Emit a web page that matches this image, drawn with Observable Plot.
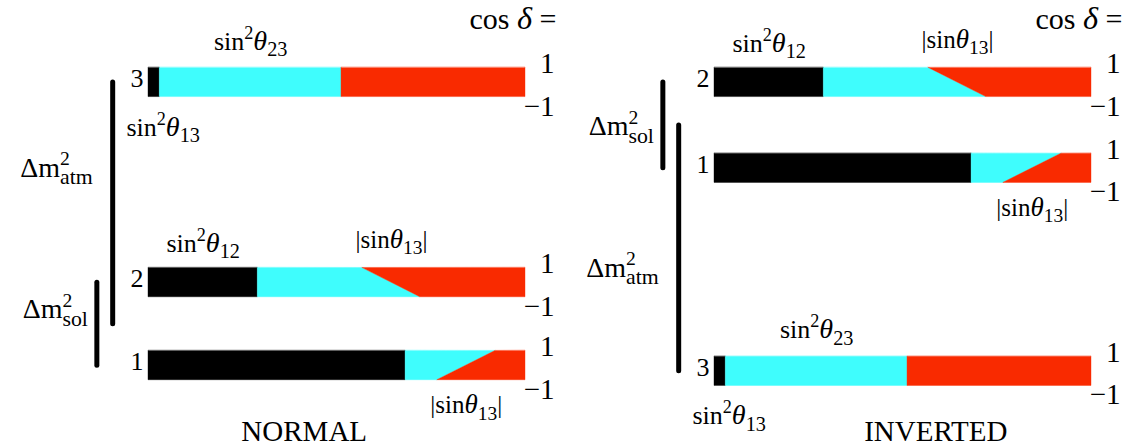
<!DOCTYPE html>
<html><head><meta charset="utf-8">
<script src="https://cdn.jsdelivr.net/npm/d3@7"></script>
<script src="https://cdn.jsdelivr.net/npm/@observablehq/plot@0.6"></script>
<style>
html,body{margin:0;padding:0;background:#fff}
#chart svg, #chart svg text { font-family: "Liberation Serif", "Times New Roman", serif !important; }
</style>
</head><body><div id="chart"></div>
<script>
// ---------------- data ----------------
const hierarchies = ["NORMAL", "INVERTED"];
const eigenstates = ["1", "2", "3"];
const flavors = ["e", "μ", "τ"];
const flavorColors = ["#000000", "#3ffdfd", "#f92a00"];
// flavour content of each mass eigenstate (fractions of the bar)
const eShare = [0.682, 0.290, 0.030];
const muShareCosPlus = [0.238, 0.278, 0.482];   // at cos δ = +1 (top edge)
const muShareCosMinus = [0.084, 0.431, 0.482];  // at cos δ = −1 (bottom edge)
const cosDeltaTicks = [1, -1];
// schematic mass levels (arbitrary units) of eigenstates 1,2,3
const normalLevels = [1, 30, 100];
const invertedLevels = [70, 100, -1];
const titleX = [0.413, 0.587];
const gapNames = ["atm", "sol"];
const normalGapLabelLevels = [67, 17.5];
const invertedGapLabelLevels = [32, 81.5];

// ---------------- derived tables ----------------
const H = 5.1; // half bar thickness in level units
const levelsOf = h => h === "NORMAL" ? normalLevels : invertedLevels;

const barRows = [];
hierarchies.forEach(h => {
  eigenstates.forEach((nu, i) => {
    cosDeltaTicks.forEach(c => {
      const mu = c > 0 ? muShareCosPlus[i] : muShareCosMinus[i];
      const cuts = [0, eShare[i], eShare[i] + mu, 1];
      flavors.forEach((f, k) => barRows.push({
        hierarchy: h, nu, flavor: f, key: h + nu + f,
        y: levelsOf(h)[i] + c * H, x1: cuts[k], x2: cuts[k + 1]
      }));
    });
  });
});

const eigenRows = hierarchies.flatMap(h => eigenstates.map((nu, i) => ({hierarchy: h, nu, i, level: levelsOf(h)[i]})));
const tickRows = eigenRows.flatMap(d => cosDeltaTicks.map(c => ({...d, c, label: c > 0 ? String(c) : "−" + Math.abs(c)})));
const headRows = hierarchies.map(h => ({hierarchy: h, level: d3.max(levelsOf(h))}));
const lev = (h, nu) => levelsOf(h)[eigenstates.indexOf(nu)];
const idx = nu => eigenstates.indexOf(nu);

const th23Rows = hierarchies.map(h => ({hierarchy: h, x: eShare[idx("3")] + muShareCosPlus[idx("3")] / 2, level: lev(h, "3")}));
const th13Rows = hierarchies.map(h => ({hierarchy: h, x: eShare[idx("3")] / 2, level: lev(h, "3")}));
const th12Rows = hierarchies.map(h => ({hierarchy: h, x: eShare[idx("2")] / 2, level: lev(h, "2")}));
const slant = i => eShare[i] + (muShareCosPlus[i] + muShareCosMinus[i]) / 2;
const s13AboveRows = hierarchies.map(h => ({hierarchy: h, x: slant(idx("2")), level: lev(h, "2")}));
const s13BelowRows = hierarchies.map(h => ({hierarchy: h, x: slant(idx("1")), level: lev(h, "1")}));

const gapRows = hierarchies.flatMap(h => {
  const L = levelsOf(h);
  const mid12 = (L[0] + L[1]) / 2;
  const labelLv = h === "NORMAL" ? normalGapLabelLevels : invertedGapLabelLevels;
  return gapNames.map((g, k) => ({
    hierarchy: h, name: g,
    x: g === "atm" ? -0.095 : -0.137,
    y1: g === "atm" ? L[2] : L[0],
    y2: g === "atm" ? mid12 : L[1],
    labelLevel: labelLv[k],
    text: "Δm^{2}_{" + g + "}"
  }));
});
const titleRows = hierarchies.map((h, i) => ({hierarchy: h, x: titleX[i]}));

const font = "Liberation Serif";
const T = (data, opts) => Plot.text(data, {fontFamily: font, fill: "black", lineAnchor: "bottom", ...opts});

const chart = Plot.plot({
  width: 1136, height: 447,
  marginLeft: 148, marginRight: 45, marginTop: 82, marginBottom: 79,
  style: {fontFamily: font, background: "white", color: "black", overflow: "visible"},
  fx: {domain: hierarchies, paddingInner: 0.334, paddingOuter: 0, axis: null, label: null},
  x: {domain: [0, 1], axis: null},
  y: {domain: [0, 100], axis: null},
  color: {domain: flavors, range: flavorColors},
  marks: [
    Plot.areaX(barRows, {fx: "hierarchy", x1: "x1", x2: "x2", y: "y", z: "key", fill: "flavor", stroke: "flavor", strokeWidth: 0.4}),
    Plot.ruleX(gapRows, {fx: "hierarchy", x: "x", y1: "y1", y2: "y2", stroke: "black", strokeWidth: 5, strokeLinecap: "round"}),
    T(gapRows.filter(d => d.name === "atm"), {fx: "hierarchy", x: "x", y: "labelLevel", text: "text", dx: -20, textAnchor: "end", fontSize: 28}),
    T(gapRows.filter(d => d.name === "sol"), {fx: "hierarchy", x: "x", y: "labelLevel", text: "text", dx: -9, textAnchor: "end", fontSize: 28}),
    T(eigenRows, {fx: "hierarchy", x: 0, y: "level", text: "nu", textAnchor: "end", dx: -5, dy: 4.5, fontSize: 26}),
    T(tickRows.filter(d => d.c > 0), {fx: "hierarchy", x: 1, y: d => d.level + H, text: "label", textAnchor: "end", dx: 29, dy: 5, fontSize: 29}),
    T(tickRows.filter(d => d.c < 0), {fx: "hierarchy", x: 1, y: d => d.level - H, text: "label", textAnchor: "end", dx: 29, dy: 18.5, fontSize: 29}),
    T(headRows, {fx: "hierarchy", x: 1, y: "level", text: () => "cos *{δ} =", textAnchor: "end", dx: 31, dy: -54, fontSize: 30}),
    T(th23Rows, {fx: "hierarchy", x: "x", y: "level", text: () => "sin^{2}*{θ}_{23}", dy: -33, fontSize: 26}),
    T(th13Rows, {fx: "hierarchy", x: "x", y: "level", text: () => "sin^{2}*{θ}_{13}", dx: 9, dy: 53, fontSize: 26}),
    T(th12Rows, {fx: "hierarchy", x: "x", y: "level", text: () => "sin^{2}*{θ}_{12}", dy: -31, fontSize: 26}),
    T(s13AboveRows, {fx: "hierarchy", x: "x", y: "level", text: () => "|sin*{θ}_{13}|", dy: -35, fontSize: 25}),
    T(s13BelowRows, {fx: "hierarchy", x: "x", y: "level", text: () => "|sin*{θ}_{13}|", dy: 47.5, fontSize: 25}),
    T(titleRows, {fx: "hierarchy", x: "x", frameAnchor: "bottom", text: "hierarchy", dy: 72, fontSize: 29})
  ]
});
document.getElementById("chart").appendChild(chart);

// rich text: ^{sup}, _{sub}, *{italic}
function richify(svg) {
  const ns = "http://www.w3.org/2000/svg";
  svg.querySelectorAll("text").forEach(t => {
    const s = t.textContent;
    if (!/[\^_*]\{/.test(s)) return;
    const F = parseFloat(getComputedStyle(t).fontSize);
    while (t.firstChild) t.removeChild(t.firstChild);
    const re = /([\^_*])\{([^}]*)\}|([^\^_*]+)/g;
    let m, cur = 0, prev = null, prevKind = null;
    while ((m = re.exec(s))) {
      const kind = m[1] || "";
      const str = m[1] ? m[2] : m[3];
      const ts = document.createElementNS(ns, "tspan");
      ts.textContent = str;
      let off = 0;
      if (kind === "^") { ts.setAttribute("font-size", (0.7 * F).toFixed(1)); off = -0.42 * F; }
      else if (kind === "_") { ts.setAttribute("font-size", (0.78 * F).toFixed(1)); off = 0.26 * F; }
      else if (kind === "*") { ts.setAttribute("font-style", "italic"); ts.setAttribute("font-size", (1.08 * F).toFixed(1)); }
      if (off !== cur) ts.setAttribute("dy", (off - cur).toFixed(2));
      cur = off;
      t.appendChild(ts);
      if (kind === "_" && prevKind === "^") ts.setAttribute("dx", (-prev.getComputedTextLength()).toFixed(2));
      prev = ts; prevKind = kind;
    }
  });
}
richify(chart);
</script>
</body></html>
